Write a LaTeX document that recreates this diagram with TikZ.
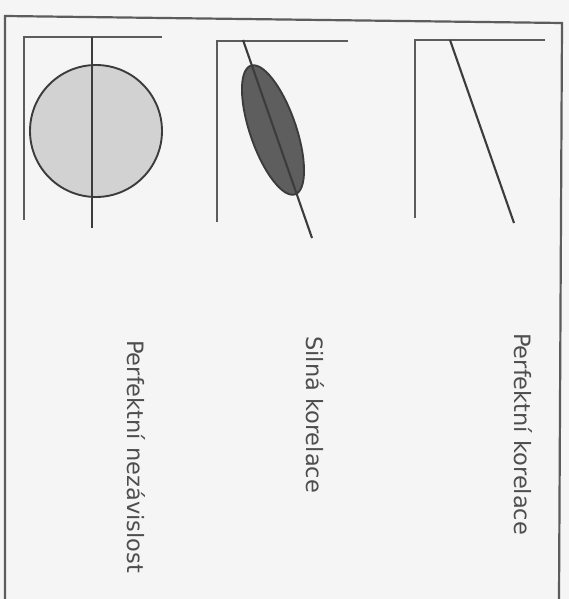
\documentclass[tikz,border=0pt]{standalone}
\usepackage{fontspec}
\usepackage{xcolor}
\usepackage{tikz}
\setmainfont{DejaVu Sans}
\definecolor{paper}{HTML}{F5F5F5}
\definecolor{axisgray}{HTML}{5C5C5C}
\definecolor{inkgray}{HTML}{3C3C3C}
\definecolor{lightfill}{HTML}{D2D2D2}
\definecolor{darkfill}{HTML}{5E5E5E}
\definecolor{textgray}{HTML}{4E4E4E}

\begin{document}
\begin{tikzpicture}[
    x=1pt, y=-1pt,
    axis/.style={draw=axisgray, line width=2.2pt},
    trend/.style={draw=inkgray, line width=2.1pt},
    cloud/.style={draw=inkgray, line width=1.9pt},
    caption/.style={rotate=-90, anchor=west, inner sep=0pt, text=textgray, font=\fontsize{22.5}{27}\selectfont},
  ]
    \useasboundingbox[fill=paper] (0,0) rectangle (569,599);
    \draw[axis] (5,599) -- (5,16) -- (562,23) -- (559,599);

    % perfect independence
    \coordinate (indTop) at (92,37);
    \coordinate (indBot) at (92,228);
    \draw[axis] (24,220) -- (24,37) -- (162,37);
    \draw[cloud, fill=lightfill] (96,131) circle[radius=66];
    \draw[trend] (indTop) -- (indBot);
    \node[caption] (indLabel) at (136,340) {Perfektní nezávislost};

    % strong correlation
    \coordinate (strTop) at (243,40);
    \coordinate (strBot) at (312,238);
    \draw[axis] (217,222) -- (217,41) -- (348,41);
    \draw[cloud, fill=darkfill] (273,130) ellipse[x radius=68, y radius=23, rotate=-71];
    \draw[trend] (strTop) -- (strBot);
    \node[caption] (strLabel) at (315,336) {Silná korelace};

    % perfect correlation
    \coordinate (perTop) at (450,40);
    \coordinate (perBot) at (514,223);
    \draw[axis] (415,218) -- (415,40) -- (545,40);
    \draw[trend] (perTop) -- (perBot);
    \node[caption] (perLabel) at (523,333) {Perfektní korelace};
  \end{tikzpicture}
\end{document}
